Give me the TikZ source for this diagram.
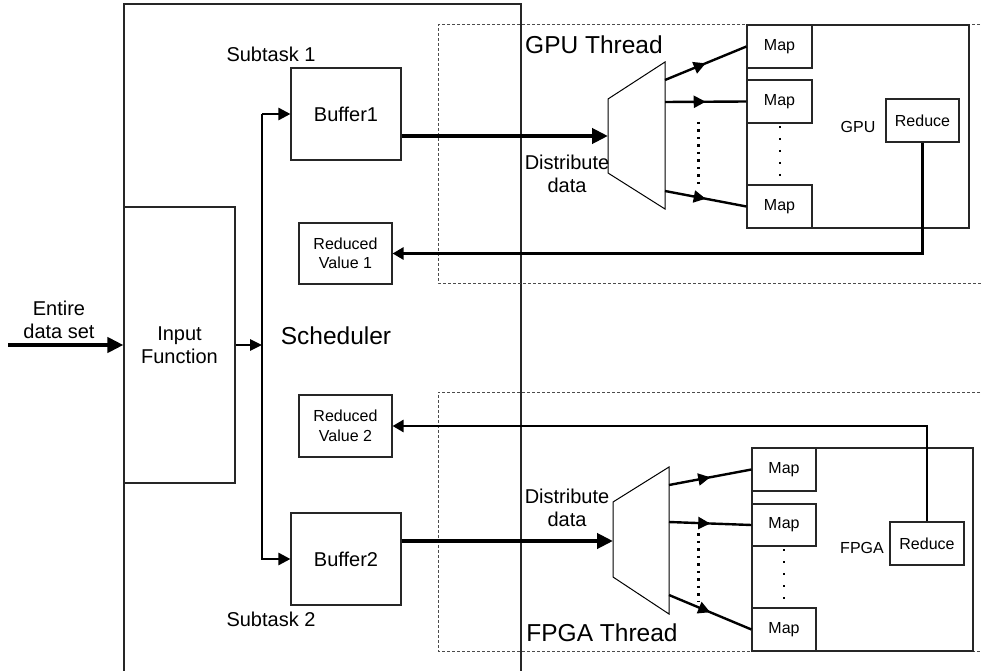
\documentclass[tikz,border=0pt]{standalone}
\usepackage{fontspec}
\setmainfont{Liberation Sans}
\usetikzlibrary{arrows.meta,decorations.markings,calc}
\begin{document}
\begin{tikzpicture}[x=1pt,y=-1pt,
  box/.style={draw=black!85,line width=1.1pt,inner sep=0pt,align=center,minimum width=#1},
  lbl/.style={inner sep=0pt,align=center},
  fA/.style={font=\fontsize{20}{23}\selectfont},
  fB/.style={font=\fontsize{16}{19.5}\selectfont},
  fC/.style={font=\fontsize{24.5}{28}\selectfont},
  frame/.style={draw=black!85,line width=1.1pt},
  dashframe/.style={draw=black!70,line width=1pt,dash pattern=on 3pt off 2pt},
  bigarrow/.style={line width=4.5pt,-{Triangle[length=16pt,width=15pt]}},
  busline/.style={line width=2.6pt,line join=miter},
  bushead/.style={-{Triangle[length=12pt,width=12pt]}},
  retline/.style={line width=2.6pt,-{Triangle[length=11pt,width=12pt]}},
  midarrow/.style={line width=2.4pt,postaction={decorate},decoration={markings,mark=at position 0.5 with {\arrow{Triangle[length=12pt,width=12pt]}}}},
  bigdots/.style={line width=3pt,dash pattern=on 2.5pt off 5pt},
  smalldots/.style={line width=2pt,dash pattern=on 2pt off 10pt}
]
\useasboundingbox (0,0) rectangle (982,671);
\clip (0,0) rectangle (982,671);

% Scheduler frame
\draw[frame] (124,690) -- (124,4) -- (521,4) -- (521,690);

% dashed thread frames
\draw[dashframe] (990,25) -- (438,25) -- (438,283) -- (990,283);
\draw[dashframe] (990,392) -- (438,392) -- (438,651) -- (990,651);

% left side nodes
\node[box=111pt,minimum height=276pt,fA] (inp) at (179.5,345) {Input\\Function};
\node[box=110pt,minimum height=92pt,fA] (buf1) at (346,114) {Buffer1};
\node[box=110pt,minimum height=92pt,fA] (buf2) at (346,559) {Buffer2};
\node[box=93pt,minimum height=61pt,fB] (rv1) at (345.5,253.5) {Reduced\\Value 1};
\node[box=93pt,minimum height=62pt,fB] (rv2) at (345.5,426) {Reduced\\Value 2};

\node[lbl,fA] (ent) at (59,320) {Entire\\data set};
\node[lbl,fA] (sub1) at (271,54) {Subtask 1};
\node[lbl,fA] (sub2) at (271,619) {Subtask 2};
\node[lbl,fC] (sched) at (336,336) {Scheduler};

% GPU part
\node[box=222pt,minimum height=203pt] (gbox) at (858,126.5) {};
\node[box=65pt,minimum height=43pt,fB,fill=white] (g1) at (779.5,46.5) {Map};
\node[box=65pt,minimum height=43pt,fB,fill=white] (g2) at (779.5,101.5) {Map};
\node[box=65pt,minimum height=43pt,fB,fill=white] (g3) at (779.5,206.5) {Map};
\node[box=73pt,minimum height=43pt,fB] (gred) at (922.5,120.5) {Reduce};
\node[lbl,fB] (gpul) at (858,127) {GPU};
\node[lbl,fC] (gputh) at (594,45) {GPU Thread};
\node[lbl,fA] (gdist) at (567,174) {Distribute\\data};
\draw[line width=1pt] (608,99) -- (665,62) -- (665,209) -- (608,173) -- cycle;
\coordinate (gin) at (608,136);

% FPGA part
\node[box=221pt,minimum height=203pt] (fbox) at (862.5,549.5) {};
\node[box=64pt,minimum height=43pt,fB,fill=white] (f1) at (784,469.5) {Map};
\node[box=64pt,minimum height=42pt,fB,fill=white] (f2) at (784,525) {Map};
\node[box=64pt,minimum height=43pt,fB,fill=white] (f3) at (784,629.5) {Map};
\node[box=74pt,minimum height=43pt,fB] (fred) at (927,543.5) {Reduce};
\node[lbl,fB] (fpgal) at (862,548) {FPGA};
\node[lbl,fC] (fpgath) at (602,633) {FPGA Thread};
\node[lbl,fA] (fdist) at (567,508) {Distribute\\data};
\draw[line width=1pt] (613,502) -- (669,467) -- (669,614) -- (613,577) -- cycle;
\coordinate (fin) at (613,541);

% input arrows
\coordinate (src) at (8,345);
\draw[bigarrow] (src) -- (inp.west);
\coordinate (bus) at (262,345);
\draw[line width=2.6pt,-{Triangle[length=12pt,width=11pt]}] (inp.east) -- (bus);
\draw[busline,bushead] (bus |- buf1.west) -- (buf1.west);
\draw[busline,bushead] (bus |- buf1.west) -- (bus |- buf2.west) -- (buf2.west);

% buffers to distributors
\draw[bigarrow] (buf1.east |- gin) -- (gin);
\draw[bigarrow] (buf2.east |- fin) -- (fin);

% distributor to maps (GPU)
\draw[midarrow] (665,80) -- (g1.west);
\draw[midarrow] (665,102) -- (g2.west);
\draw[midarrow] (665,191) -- (g3.west);
\draw[bigdots] (698,122) -- (698,188);
\draw[smalldots] (780,126) -- (780,180);

% distributor to maps (FPGA)
\draw[midarrow] (669,485) -- (f1.west);
\draw[midarrow] (669,522) -- (f2.west);
\draw[midarrow] (669,595) -- (f3.west);
\draw[bigdots] (698,533) -- (698,602);
\draw[smalldots] (784,549) -- (784,600);

% reduce returns
\draw[retline] (gred.south) |- (rv1.east);
\draw[retline] (fred.north) |- (rv2.east);
\end{tikzpicture}
\end{document}
